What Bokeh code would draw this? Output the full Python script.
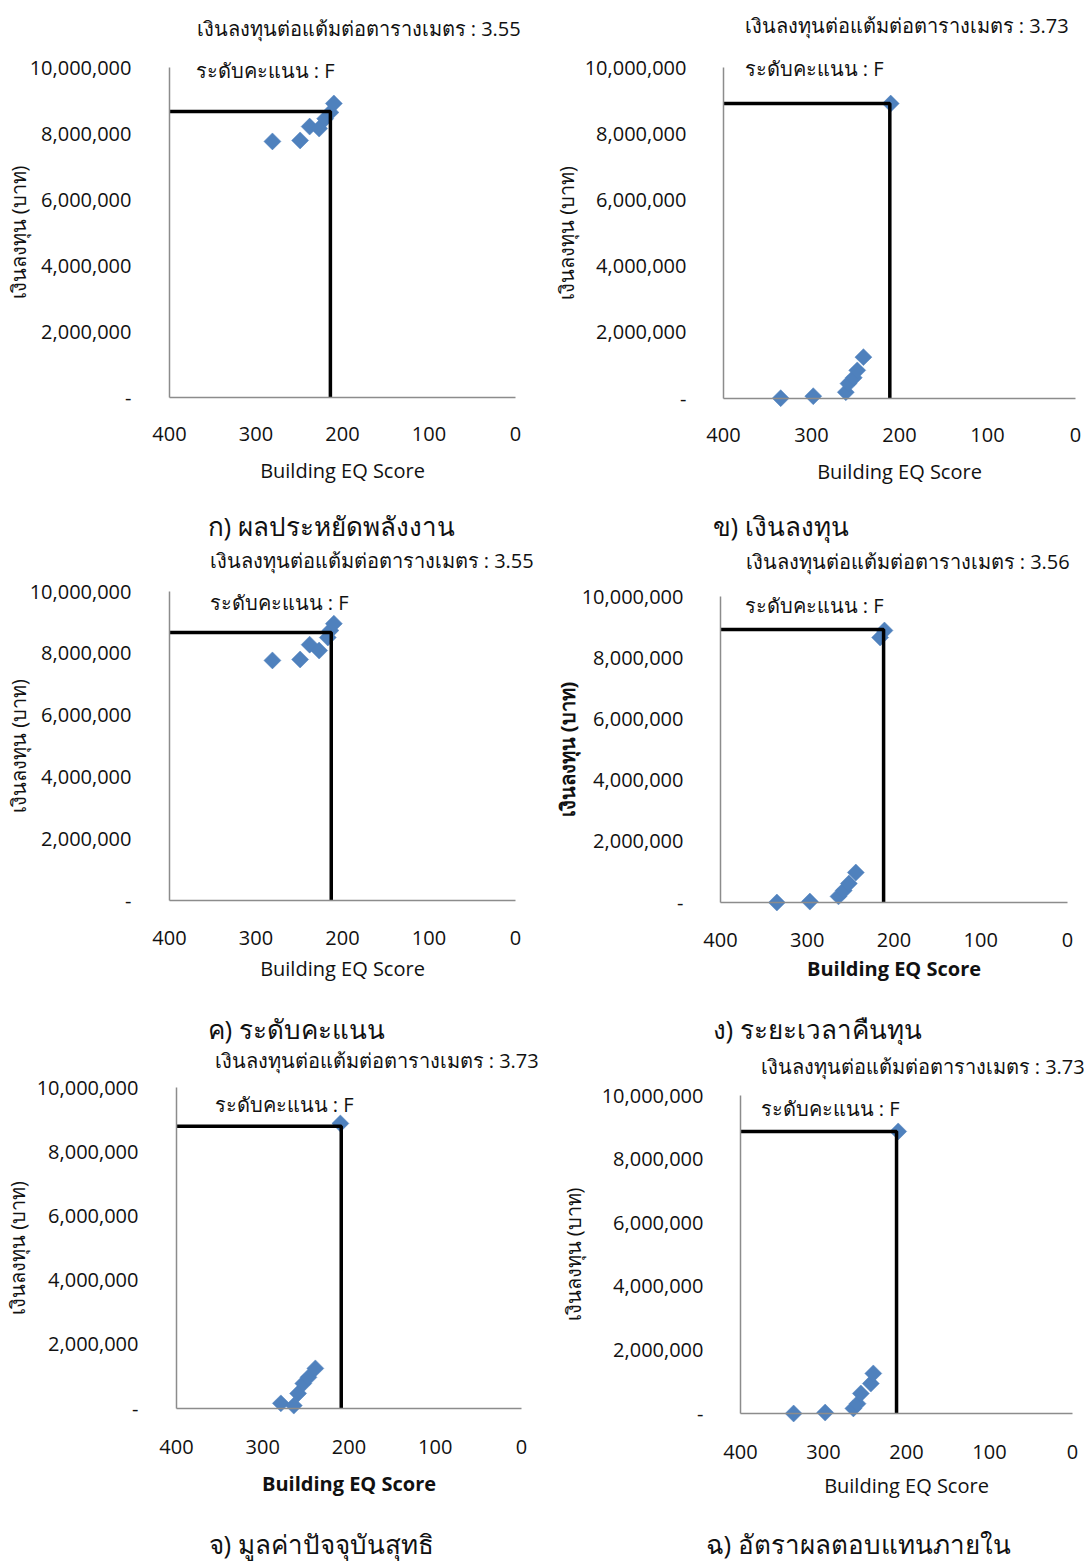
import math
from bokeh.plotting import figure
from bokeh.models import Range1d, FixedTicker, Label
from bokeh.layouts import column, row
from bokeh.embed import file_html
from bokeh.resources import INLINE

FONT = "Open Sans"

# ---------------- data ----------------
y_ticks = [0, 2000000, 4000000, 6000000, 8000000, 10000000]
y_tick_labels = ["-", "2,000,000", "4,000,000", "6,000,000", "8,000,000", "10,000,000"]
x_ticks = [400, 300, 200, 100, 0]
x_tick_labels = ["400", "300", "200", "100", "0"]

x_title = "Building EQ Score"
y_title = "เงินลงทุน (บาท)"
grade_text = "ระดับคะแนน : F"

titles = [
    "เงินลงทุนต่อแต้มต่อตารางเมตร : 3.55",
    "เงินลงทุนต่อแต้มต่อตารางเมตร : 3.73",
    "เงินลงทุนต่อแต้มต่อตารางเมตร : 3.55",
    "เงินลงทุนต่อแต้มต่อตารางเมตร : 3.56",
    "เงินลงทุนต่อแต้มต่อตารางเมตร : 3.73",
    "เงินลงทุนต่อแต้มต่อตารางเมตร : 3.73",
]
captions = [
    "ก) ผลประหยัดพลังงาน",
    "ข) เงินลงทุน",
    "ค) ระดับคะแนน",
    "ง) ระยะเวลาคืนทุน",
    "จ) มูลค่าปัจจุบันสุทธิ",
    "ฉ) อัตราผลตอบแทนภายใน",
]

a_score = [281, 249, 238, 227, 220, 214, 210]
a_invest = [7760000, 7790000, 8210000, 8150000, 8450000, 8640000, 8910000]
a_cross = [214, 8670000]

b_score = [335, 298, 261, 258, 252, 248, 241, 210]
b_invest = [10000, 70000, 190000, 450000, 630000, 850000, 1250000, 8910000]
b_cross = [211, 8910000]

c_score = [281, 249, 238, 227, 217, 214, 210]
c_invest = [7770000, 7800000, 8280000, 8090000, 8510000, 8740000, 8960000]
c_cross = [213, 8670000]

d_score = [335, 297, 264, 258, 252, 244, 216, 211]
d_invest = [0, 30000, 200000, 390000, 620000, 980000, 8660000, 8890000]
d_cross = [212, 8920000]

e_score = [279, 264, 259, 253, 247, 239, 210]
e_invest = [160000, 90000, 470000, 780000, 970000, 1250000, 8880000]
e_cross = [209, 8790000]

f_score = [336, 298, 264, 259, 255, 243, 240, 210]
f_invest = [0, 30000, 160000, 310000, 630000, 940000, 1260000, 8870000]
f_cross = [212, 8870000]

series = [
    (a_score, a_invest, a_cross),
    (b_score, b_invest, b_cross),
    (c_score, c_invest, c_cross),
    (d_score, d_invest, d_cross),
    (e_score, e_invest, e_cross),
    (f_score, f_invest, f_cross),
]

# ---------------- layout (page pixel coords) ----------------
panels = [
    dict(ox=0, oy=0, w=542, h=545, L=169, R=515, T=67, B=397, yts=38, yls=-5, xts=29, xls=13,
         yb=False, xb=False, tp=(196, 28), gp=(195, 70), cp=(207, 525)),
    dict(ox=542, oy=0, w=542, h=545, L=723, R=1075, T=67, B=398, yts=37, yls=2, xts=29, xls=13,
         yb=False, xb=False, tp=(744, 25), gp=(744, 68), cp=(712, 525)),
    dict(ox=0, oy=545, w=542, h=500, L=169, R=515, T=591, B=900, yts=38, yls=-5, xts=30, xls=7,
         yb=False, xb=False, tp=(209, 560), gp=(209, 602), cp=(207, 1028)),
    dict(ox=542, oy=545, w=542, h=500, L=720, R=1067, T=596, B=902, yts=37, yls=-2, xts=30, xls=5,
         yb=True, xb=True, tp=(745, 561), gp=(744, 605), cp=(712, 1028)),
    dict(ox=0, oy=1045, w=542, h=518, L=176, R=521, T=1087, B=1408, yts=38, yls=3, xts=31, xls=13,
         yb=False, xb=True, tp=(214, 1060), gp=(214, 1104), cp=(208, 1543)),
    dict(ox=542, oy=1045, w=542, h=518, L=740, R=1072, T=1095, B=1413, yts=37, yls=12, xts=31, xls=10,
         yb=False, xb=False, tp=(760, 1066), gp=(760, 1108), cp=(705, 1543)),
]

AXIS_COLOR = "#8c8c8c"
MARK_COLOR = "#4f81bd"
X_MAX, X_MIN = 400, 0
Y_MIN, Y_MAX = 0, 10000000


def add_text(p, cfg, pos, text, size):
    X, Y = pos
    p.add_layout(Label(x=X - cfg["ox"], y=cfg["oy"] + cfg["h"] - Y,
                       x_units="screen", y_units="screen",
                       text=text, text_font=FONT, text_font_size=f"{size}px",
                       text_align="left", text_baseline="middle", text_color="#111111"))


figs = []
for i, cfg in enumerate(panels):
    sc, inv, cross = series[i]
    # the frame fills the whole figure; axes are pinned at x=400 and y=0
    xpp = (X_MAX - X_MIN) / (cfg["R"] - cfg["L"])
    ypp = (Y_MAX - Y_MIN) / (cfg["B"] - cfg["T"])
    x_start = X_MAX + (cfg["L"] - cfg["ox"]) * xpp
    x_end = X_MIN - (cfg["ox"] + cfg["w"] - cfg["R"]) * xpp
    y_start = Y_MIN - (cfg["oy"] + cfg["h"] - cfg["B"]) * ypp
    y_end = Y_MAX + (cfg["T"] - cfg["oy"]) * ypp

    p = figure(width=cfg["w"], height=cfg["h"], output_backend="svg", toolbar_location=None,
               x_range=Range1d(x_start, x_end), y_range=Range1d(y_start, y_end),
               min_border=0, min_border_left=0, min_border_right=0,
               min_border_top=0, min_border_bottom=0)
    p.outline_line_color = None
    p.grid.visible = False
    p.background_fill_color = None
    p.border_fill_color = None

    for ax in (p.xaxis[0], p.yaxis[0]):
        ax.axis_line_color = AXIS_COLOR
        ax.axis_line_width = 1.5
        ax.major_tick_line_color = None
        ax.minor_tick_line_color = None
        ax.major_tick_out = 0
        ax.major_tick_in = 0
        ax.minor_tick_out = 0
        ax.minor_tick_in = 0
        ax.major_label_text_font = FONT
        ax.major_label_text_font_size = "20px"
        ax.major_label_text_color = "#111111"
        ax.axis_label_text_font = FONT
        ax.axis_label_text_font_size = "20px"
        ax.axis_label_text_color = "#111111"

    xa = p.xaxis[0]
    xa.fixed_location = Y_MIN
    xa.bounds = (X_MIN, X_MAX)
    xa.ticker = FixedTicker(ticks=x_ticks)
    xa.major_label_overrides = {t: s for t, s in zip(x_ticks, x_tick_labels)}
    xa.axis_label = x_title
    xa.axis_label_text_font_style = "bold" if cfg["xb"] else "normal"
    xa.major_label_standoff = cfg["xts"]
    xa.axis_label_standoff = cfg["xls"]

    ya = p.yaxis[0]
    ya.fixed_location = X_MAX
    ya.bounds = (Y_MIN, Y_MAX)
    ya.ticker = FixedTicker(ticks=y_ticks)
    ya.major_label_overrides = {t: s for t, s in zip(y_ticks, y_tick_labels)}
    ya.axis_label = y_title
    ya.axis_label_text_font_style = "bold" if cfg["yb"] else "normal"
    ya.major_label_standoff = cfg["yts"]
    ya.axis_label_standoff = cfg["yls"]

    p.scatter(sc, inv, marker="square", size=12, angle=math.pi / 4,
              fill_color=MARK_COLOR, line_color=MARK_COLOR, line_width=0.5)
    p.line([X_MAX, cross[0], cross[0]], [cross[1], cross[1], Y_MIN],
           line_color="black", line_width=3.5)

    add_text(p, cfg, cfg["tp"], titles[i], 20)
    add_text(p, cfg, cfg["gp"], grade_text, 20)
    add_text(p, cfg, cfg["cp"], captions[i], 26)
    figs.append(p)

layout = column(row(figs[0], figs[1]), row(figs[2], figs[3]), row(figs[4], figs[5]))
open("out.html", "w").write(file_html(layout, INLINE))
